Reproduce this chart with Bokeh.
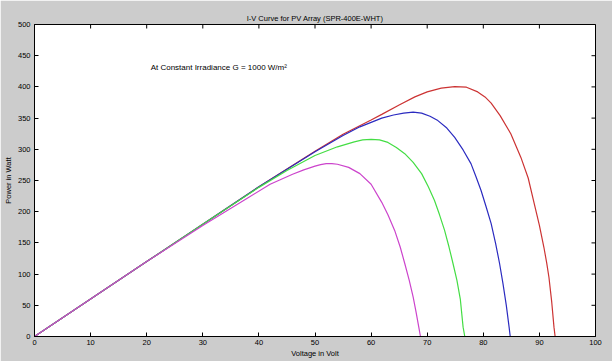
import math
from bokeh.plotting import figure
from bokeh.models import Range1d, FixedTicker, Label
from bokeh.embed import file_html
from bokeh.resources import INLINE

# ---- data (Voltage in Volt, Power in Watt) ----
red_v = [0, 10, 20, 30, 40, 50, 55, 60, 61.9, 65, 67.8, 70, 72.5, 74.9, 77, 79, 80.3, 81.4, 83, 84.9, 86.7, 88, 89.1, 90, 90.8, 91.3, 91.7, 92.2, 92.6, 92.8]
red_p = [0, 60, 120, 180, 240, 297, 324, 347, 356, 371, 384, 392, 398, 400.5, 399.5, 392, 384, 374, 354, 325, 287, 254, 212, 178, 143, 118, 95, 55, 15, 0]

blue_v = [0, 10, 20, 30, 40, 50, 55, 58, 61.9, 64, 65.8, 67.5, 69, 70.5, 71.9, 73.5, 74.9, 76.4, 77.8, 78.7, 79.6, 80.5, 81.4, 82.2, 82.9, 83.5, 84.1, 84.6, 84.8]
blue_p = [0, 60, 120, 180, 240, 296, 322, 336, 350, 355, 358, 359.5, 358, 353, 346, 334, 319, 299, 277, 256, 234, 208, 181, 149, 117, 85, 50, 15, 0]

green_v = [0, 10, 20, 30, 40, 45, 50, 54, 57, 58.5, 60, 61.5, 63, 64.5, 66, 67.5, 69, 70.2, 71.3, 72.2, 73.1, 73.9, 74.6, 75.3, 75.9, 76.4, 76.7]
green_p = [0, 60, 120, 180, 239, 266, 290, 304, 312, 315, 316, 315, 311, 303, 293, 279, 261, 240, 218, 195, 170, 143, 117, 90, 60, 15, 0]

magenta_v = [0, 10, 20, 30, 38, 42, 46, 48, 50, 51, 52, 53, 54, 56, 58, 60, 61.9, 63, 64.2, 65.2, 66, 66.8, 67.5, 68, 68.5, 68.8]
magenta_p = [0, 60, 120, 178, 222, 244, 260, 267, 273, 275.5, 277, 277, 276, 271, 261, 244, 215, 195, 170, 143, 117, 90, 63, 40, 15, 0]

x_ticks = [0, 10, 20, 30, 40, 50, 60, 70, 80, 90, 100]
y_ticks = [0, 50, 100, 150, 200, 250, 300, 350, 400, 450, 500]
x_max = 100
y_max = 500

FONT = "Liberation Sans"
FS = "7.5px"

p = figure(width=612, height=361, output_backend="svg", toolbar_location=None,
           x_range=Range1d(0, x_max), y_range=Range1d(0, y_max),
           min_border_left=31, min_border_right=17, min_border_top=24, min_border_bottom=25,
           x_axis_label="Voltage in Volt", y_axis_label="Power in Watt")

p.title.text = "I-V Curve for PV Array (SPR-400E-WHT)"
p.title.align = "center"
p.title.text_font = FONT
p.title.text_font_size = FS
p.title.text_font_style = "normal"
p.title.text_color = "black"
p.title.standoff = 4
p.title.offset = 0

p.background_fill_color = "white"
p.border_fill_color = "#cccccc"
p.outline_line_color = "black"
p.outline_line_width = 1
p.xgrid.visible = False
p.ygrid.visible = False

for ax, ticks in ((p.xaxis[0], x_ticks), (p.yaxis[0], y_ticks)):
    ax.ticker = FixedTicker(ticks=ticks)
    ax.major_tick_in = 4
    ax.major_tick_out = 0
    ax.minor_tick_line_color = None
    ax.major_label_text_font = FONT
    ax.major_label_text_font_size = FS
    ax.major_label_text_color = "black"
    ax.axis_label_text_font = FONT
    ax.axis_label_text_font_size = FS
    ax.axis_label_text_font_style = "normal"
    ax.axis_label_text_color = "black"
    ax.axis_line_color = "black"
    ax.major_tick_line_color = "black"
p.xaxis[0].major_label_standoff = 3
p.xaxis[0].axis_label_standoff = 1
p.yaxis[0].major_label_standoff = 4
p.yaxis[0].axis_label_standoff = 2

# inward tick marks on the top and right edges (half of each dash is clipped by the frame)
p.scatter(x_ticks, [y_max] * len(x_ticks), marker="dash", angle=math.pi / 2,
          size=8, line_color="black", line_width=1)
p.scatter([x_max] * len(y_ticks), y_ticks, marker="dash", angle=0,
          size=8, line_color="black", line_width=1)

p.line(red_v, red_p, line_color="#cc3333", line_width=1.2)
p.line(blue_v, blue_p, line_color="#2b2bc0", line_width=1.2)
p.line(green_v, green_p, line_color="#44dd44", line_width=1.2)
p.line(magenta_v, magenta_p, line_color="#cc44cc", line_width=1.2)

p.add_layout(Label(x=20.7, y=431, text="At Constant Irradiance G = 1000 W/m\u00b2",
                   text_font=FONT, text_font_size="8px", text_color="black",
                   text_baseline="middle"))

open("out.html", "w").write(file_html(p, INLINE))
